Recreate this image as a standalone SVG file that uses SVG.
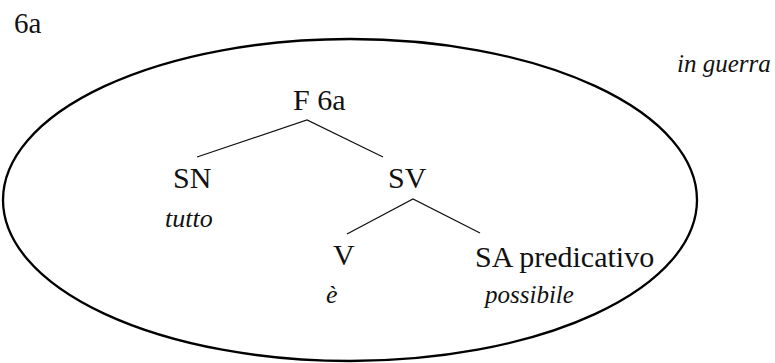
<svg xmlns="http://www.w3.org/2000/svg" width="775" height="363" viewBox="0 0 775 363">
<style>
.edge{stroke:#111;stroke-width:1.3;fill:none}
</style>
<rect width="775" height="363" fill="#fff"/>
<text x="14" y="33" font-family="Liberation Serif" font-size="29" fill="#111">6a</text>
<text x="677" y="72" font-family="Liberation Serif" font-size="25" font-style="italic" fill="#111">in guerra</text>
<ellipse id="boundary" cx="350" cy="200" rx="347" ry="161" fill="none" stroke="#000" stroke-width="2.3"/>
<g id="connectors">
<path class="edge" d="M197 157 L307 120 L383 157"/>
<path class="edge" d="M347 234 L413 199 L480 233"/>
</g>
<g id="F"><text x="293" y="110" font-family="Liberation Serif" font-size="30" fill="#111">F 6a</text></g>
<g id="SN"><text x="173" y="188" font-family="Liberation Serif" font-size="30" fill="#111">SN</text><text x="165" y="227" font-family="Liberation Serif" font-size="26" font-style="italic" fill="#111">tutto</text></g>
<g id="SV"><text x="388" y="188" font-family="Liberation Serif" font-size="30" fill="#111">SV</text></g>
<g id="V"><text x="333" y="265" font-family="Liberation Serif" font-size="30" fill="#111">V</text><text x="326" y="303" font-family="Liberation Serif" font-size="26" font-style="italic" fill="#111">&#232;</text></g>
<g id="SA"><text x="475" y="267" font-family="Liberation Serif" font-size="30" fill="#111">SA predicativo</text><text x="485" y="303" font-family="Liberation Serif" font-size="25" font-style="italic" fill="#111">possibile</text></g>
</svg>
